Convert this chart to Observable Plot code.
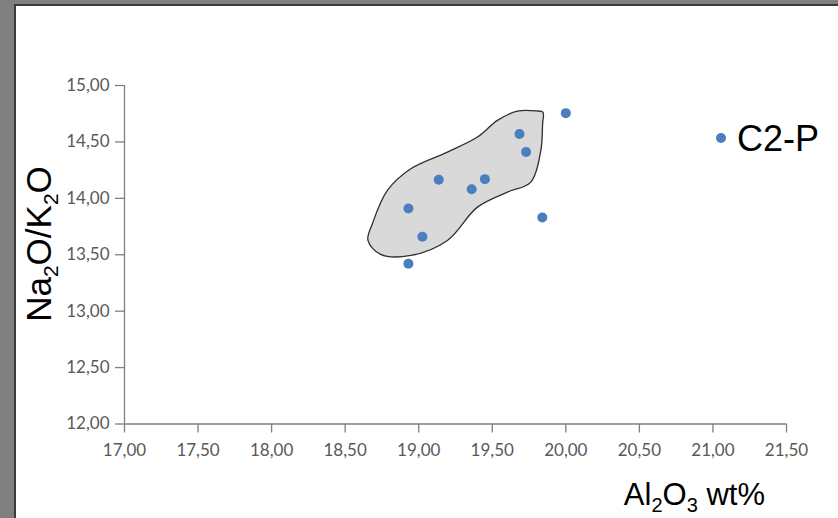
<!DOCTYPE html>
<html>
<head>
<meta charset="utf-8">
<script src="https://cdn.jsdelivr.net/npm/d3@7"></script>
<script src="https://cdn.jsdelivr.net/npm/@observablehq/plot@0.6"></script>
<style>
  html, body { margin: 0; padding: 0; background: #808080; width: 838px; height: 518px; overflow: hidden; }
  #frame { position: absolute; left: 14px; top: 4px; width: 824px; height: 514px;
           border-left: 2px solid #3c3c3c; border-top: 2px solid #3c3c3c; background: #fff; }
  #chart svg { display: block; }
</style>
</head>
<body>
<div id="frame"><div id="chart"></div></div>
<script>
// Data
const al2o3 = [18.93, 18.93, 19.025, 19.136, 19.36, 19.45, 19.685, 19.73, 19.84, 20.00];
const naK   = [13.42, 13.91, 13.66, 14.165, 14.08, 14.17, 14.57, 14.41, 13.83, 14.755];

// Outline of the grey field
const hullX = [19.844, 19.80, 19.671, 19.535, 19.399, 19.195, 18.946, 18.787, 18.685, 18.655, 18.741, 18.946, 19.195, 19.399, 19.603, 19.762, 19.830, 19.842];
const hullY = [14.764, 14.775, 14.773, 14.691, 14.543, 14.410, 14.262, 14.070, 13.775, 13.627, 13.503, 13.494, 13.627, 13.922, 14.055, 14.144, 14.425, 14.66];

const xTicks = [17, 17.5, 18, 18.5, 19, 19.5, 20, 20.5, 21, 21.5];
const yTicks = [12, 12.5, 13, 13.5, 14, 14.5, 15];

const seriesName = "C2-P";

const points = al2o3.map((x, i) => ({x, y: naK[i]}));
const hull = hullX.map((x, i) => ({x, y: hullY[i]}));
const fmt = d => d.toFixed(2).replace(".", ",");

const W = 822, H = 512;
const plot = Plot.plot({
  width: W,
  height: H,
  marginLeft: 108,
  marginRight: 52,
  marginTop: 79,
  marginBottom: 94.5,
  style: {fontFamily: "Lato, 'Open Sans', sans-serif", fontSize: "17px", background: "transparent"},
  x: {domain: [17, 21.5]},
  y: {domain: [12, 15]},
  marks: [
    Plot.line(hull, {x: "x", y: "y", curve: "catmull-rom-closed", fill: "#d9d9d9", stroke: "#2f2f2f", strokeWidth: 1.3}),
    Plot.ruleX([17], {stroke: "#7f7f7f", strokeWidth: 1.3}),
    Plot.ruleY([12], {stroke: "#7f7f7f", strokeWidth: 1.3}),
    Plot.axisX({ticks: xTicks, tickFormat: fmt, tickSize: 9, tickPadding: 11, stroke: "#7f7f7f", fill: "#595959", label: null, strokeWidth: 1.3}),
    Plot.axisY({ticks: yTicks, tickFormat: fmt, tickSize: 9, tickPadding: 6, stroke: "#7f7f7f", fill: "#595959", label: null, strokeWidth: 1.3}),
    Plot.dot(points, {x: "x", y: "y", r: 5, fill: "#4a7ebf", stroke: "none"})
  ]
});
document.getElementById("chart").appendChild(plot);

const svg = d3.select(plot);
const titleFont = "'Liberation Sans', Arial, sans-serif";

// x axis title: Al2O3 wt%
const xt = svg.append("text")
  .attr("x", 749).attr("y", 499)
  .attr("text-anchor", "end")
  .style("font-family", titleFont).style("font-size", "31px").attr("fill", "#000");
xt.append("tspan").text("Al");
xt.append("tspan").attr("dy", 7).style("font-size", "20px").text("2");
xt.append("tspan").attr("dy", -7).text("O");
xt.append("tspan").attr("dy", 7).style("font-size", "20px").text("3");
xt.append("tspan").attr("dy", -7).text(" wt%");

// y axis title: Na2O/K2O
const yt = svg.append("text")
  .attr("transform", "translate(35,238) rotate(-90)")
  .attr("text-anchor", "middle")
  .style("font-family", titleFont).style("font-size", "35px").attr("fill", "#000");
yt.append("tspan").text("Na");
yt.append("tspan").attr("dy", 7).style("font-size", "21px").text("2");
yt.append("tspan").attr("dy", -7).text("O/K");
yt.append("tspan").attr("dy", 7).style("font-size", "21px").text("2");
yt.append("tspan").attr("dy", -7).text("O");

// legend
svg.append("circle").attr("cx", 705).attr("cy", 132).attr("r", 5).attr("fill", "#4a7ebf");
svg.append("text").attr("x", 721).attr("y", 145)
  .attr("text-anchor", "start")
  .style("font-family", titleFont).style("font-size", "36px").attr("fill", "#000")
  .text(seriesName);
</script>
</body>
</html>
